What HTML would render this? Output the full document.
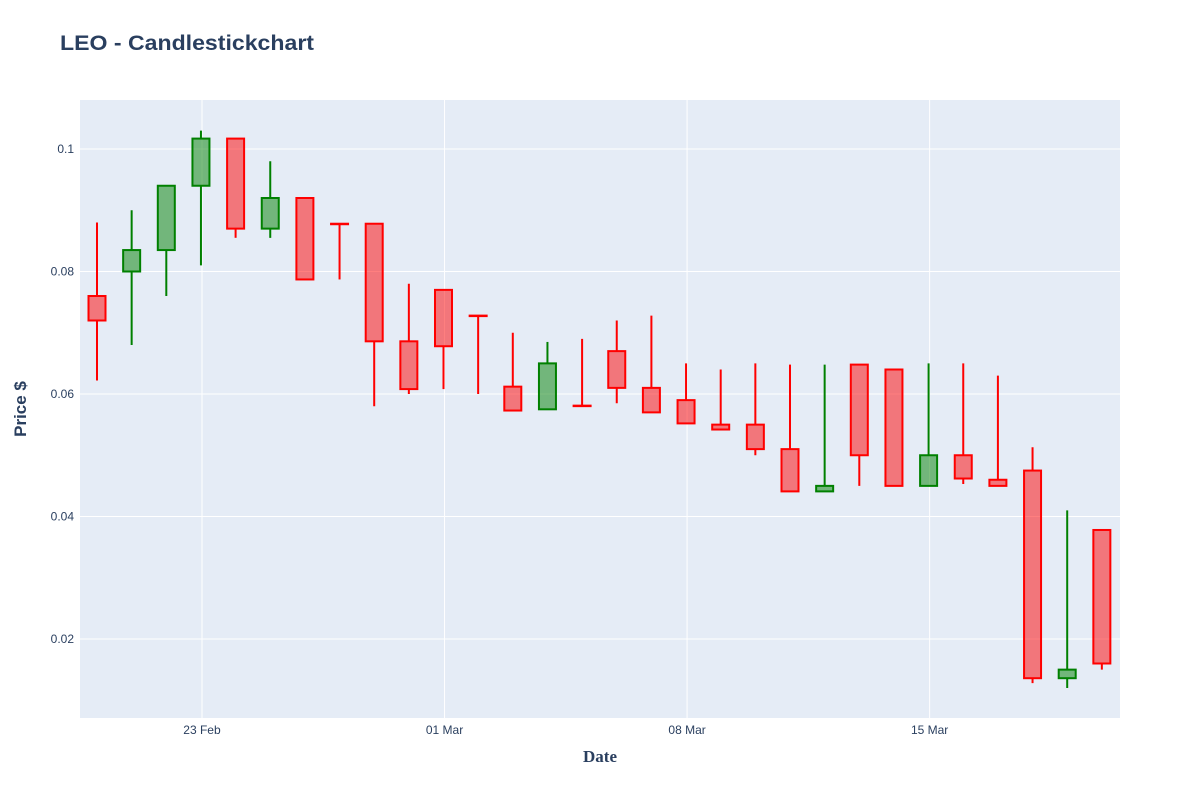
<!DOCTYPE html>
<html><head><meta charset="utf-8"><style>
body{margin:0;background:#fff;font-family:"Liberation Sans",sans-serif;}
</style></head><body>
<svg width="1200" height="800" xmlns="http://www.w3.org/2000/svg">
<rect width="1200" height="800" fill="#fff"/>
<rect x="80" y="100" width="1040" height="618" fill="#e5ecf6"/>
<g id="grid"></g>
<g id="candles"></g>
<g id="ticks" font-size="12" fill="#2a3f5f"></g>
<text x="60" y="50" font-size="21" font-weight="bold" fill="#2a3f5f" textLength="254" lengthAdjust="spacingAndGlyphs">LEO - Candlestickchart</text>
<text x="600" y="762" text-anchor="middle" font-size="17" font-weight="bold" font-family="Liberation Serif,serif" fill="#2a3f5f">Date</text>
<text transform="translate(26,409) rotate(-90)" text-anchor="middle" font-size="17" font-weight="bold" fill="#2a3f5f">Price $</text>
</svg>
<script>
const opens  = [0.076,0.080,0.0835,0.094,0.1017,0.087,0.092,0.0878,0.0878,0.0686,0.077,0.0728,0.0612,0.0575,0.0581,0.067,0.061,0.059,0.055,0.055,0.051,0.0441,0.0648,0.064,0.045,0.050,0.046,0.0475,0.0136,0.0378];
const closes = [0.072,0.0835,0.094,0.1017,0.087,0.092,0.0787,0.0878,0.0686,0.0608,0.0678,0.0728,0.0573,0.065,0.0581,0.061,0.057,0.0552,0.0542,0.051,0.0441,0.045,0.050,0.045,0.050,0.0462,0.045,0.0136,0.015,0.016];
const highs  = [0.088,0.090,0.094,0.103,0.1017,0.098,0.092,0.0878,0.0878,0.078,0.077,0.0728,0.070,0.0685,0.069,0.072,0.0728,0.065,0.064,0.065,0.0648,0.0648,0.0648,0.064,0.065,0.065,0.063,0.0513,0.041,0.0378];
const lows   = [0.0622,0.068,0.076,0.081,0.0855,0.0855,0.0787,0.0787,0.058,0.060,0.0608,0.060,0.0573,0.0575,0.0581,0.0585,0.057,0.0552,0.0542,0.050,0.0441,0.0441,0.045,0.045,0.045,0.0453,0.045,0.0128,0.012,0.015];
const yTicks = [0.02,0.04,0.06,0.08,0.1];
const yTickLabels = ["0.02","0.04","0.06","0.08","0.1"];
const xTicks = [3.03,10.03,17.03,24.03];
const xTickLabels = ["23 Feb","01 Mar","08 Mar","15 Mar"];
const NS="http://www.w3.org/2000/svg";
const X=i=>97+i*34.65;
const Y=v=>149+(0.1-v)*6125;
function mk(tag,attrs,parent){const e=document.createElementNS(NS,tag);for(const k in attrs)e.setAttribute(k,attrs[k]);document.getElementById(parent).appendChild(e);return e;}
yTicks.forEach((v,i)=>{
 const l=mk('line',{x1:80,x2:1120,y1:Y(v),y2:Y(v),stroke:'#fff','stroke-width':1},'grid');
 
 
 const t=mk('text',{x:74,y:Y(v)+4,'text-anchor':'end'},'ticks');t.textContent=yTickLabels[i];
 
 
});
xTicks.forEach((d,i)=>{
 const l=mk('line',{x1:X(d),x2:X(d),y1:100,y2:718,stroke:'#fff','stroke-width':1},'grid');
 
 
 const t=mk('text',{x:X(d),y:734,'text-anchor':'middle'},'ticks');t.textContent=xTickLabels[i];
 
 
});
opens.forEach((o,i)=>{
 const c=closes[i],up=c>o,col=up?'#008000':'#ff0000',fill=up?'rgba(0,128,0,0.5)':'rgba(255,0,0,0.5)';
 const x=X(i),top=Y(Math.max(o,c)),bot=Y(Math.min(o,c));
 const g=document.createElementNS(NS,'g');document.getElementById('candles').appendChild(g);
 
 
 const w=document.createElementNS(NS,'path');
 w.setAttribute('d',`M${x},${Y(highs[i])}V${top}M${x},${bot}V${Y(lows[i])}`);
 w.setAttribute('stroke',col);w.setAttribute('stroke-width',2);g.appendChild(w);
 const r=document.createElementNS(NS,'rect');
 r.setAttribute('x',x-8.5);r.setAttribute('y',top);r.setAttribute('width',17);r.setAttribute('height',Math.max(bot-top,0.5));
 r.setAttribute('fill',fill);r.setAttribute('stroke',col);r.setAttribute('stroke-width',2);g.appendChild(r);
});
</script>
</body></html>
